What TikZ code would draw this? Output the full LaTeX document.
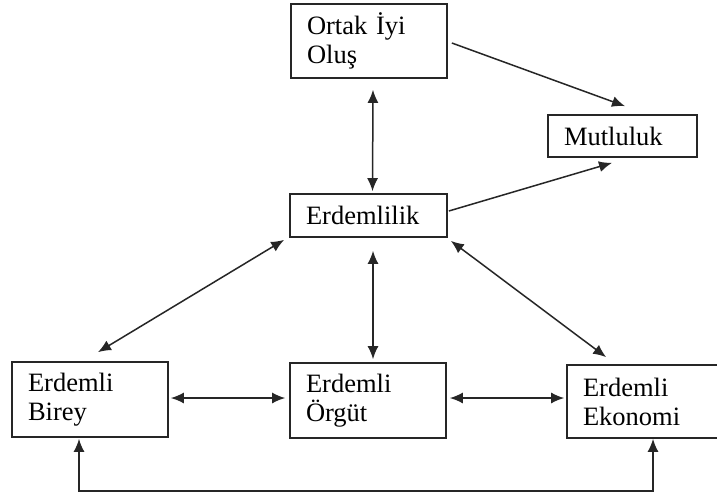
\documentclass[tikz,border=0pt]{standalone}
\usepackage{fontspec}
\setmainfont{Liberation Serif}
\usetikzlibrary{calc,arrows.meta}
\begin{document}
\begin{tikzpicture}[x=1pt,y=-1pt,
  box/.style={draw=black!85, line width=1.7pt, rectangle, inner xsep=16pt, inner ysep=0pt,
    align=left, font=\fontsize{26.5}{29}\selectfont, text=black},
  conn/.style={line width=1.5pt, draw=black!85, {Latex[length=13pt,width=11pt]}-{Latex[length=13pt,width=11pt]}},
  oneway/.style={line width=1.5pt, draw=black!85, -{Latex[length=13pt,width=11pt]}}]
\clip (0,0) rectangle (717,498);
\fill[white] (0,0) rectangle (717,498);
% boxes
\node[box, minimum width=156pt, minimum height=74pt, text width=124pt] (o) at (369,41) {Ortak İyi\\Oluş};
\node[box, minimum width=149pt, minimum height=42pt, text width=117pt] (m) at (622.5,136) {Mutluluk};
\node[box, minimum width=157pt, minimum height=43pt, text width=125pt] (e) at (368.5,215.5) {Erdemlilik};
\node[box, minimum width=156pt, minimum height=75pt, text width=124pt] (b) at (90,399.5) {Erdemli\\Birey};
\node[box, minimum width=156pt, minimum height=75pt, text width=124pt] (g) at (368,400.5) {Erdemli\\Örgüt};
\node[box, minimum width=168pt, minimum height=73pt, text width=136pt] (k) at (651,401.5) {Erdemli\\Ekonomi};
% connectors
\draw[conn] ($(o.south)+(4,11)$) -- ($(e.north)+(4,-2)$);
\draw[oneway] ($(o.east)+(4,2)$) -- ($(m.north)+(2.5,-8)$);
\draw[oneway] ($(e.east)+(1,-4.5)$) -- ($(m.south)+(-10.5,5)$);
\draw[conn] ($(e.south west)+(-5,2)$) -- ($(b.north)+(8,-9)$);
\draw[conn] ($(e.south)+(4.5,13)$) -- ($(g.north)+(5,-3)$);
\draw[conn] ($(e.south east)+(3,3)$) -- ($(k.north west)+(40,-7)$);
\draw[conn] ($(b.east)+(2,-1.5)$) -- ($(g.west)+(-4,-2.5)$);
\draw[conn] ($(g.east)+(3,-2.5)$) -- ($(k.west)+(-2,-3.5)$);
\draw[conn] ($(b.south)+(-11,1)$) -- ++(0,52) -| ($(k.south)+(2,0)$);
\end{tikzpicture}
\end{document}
